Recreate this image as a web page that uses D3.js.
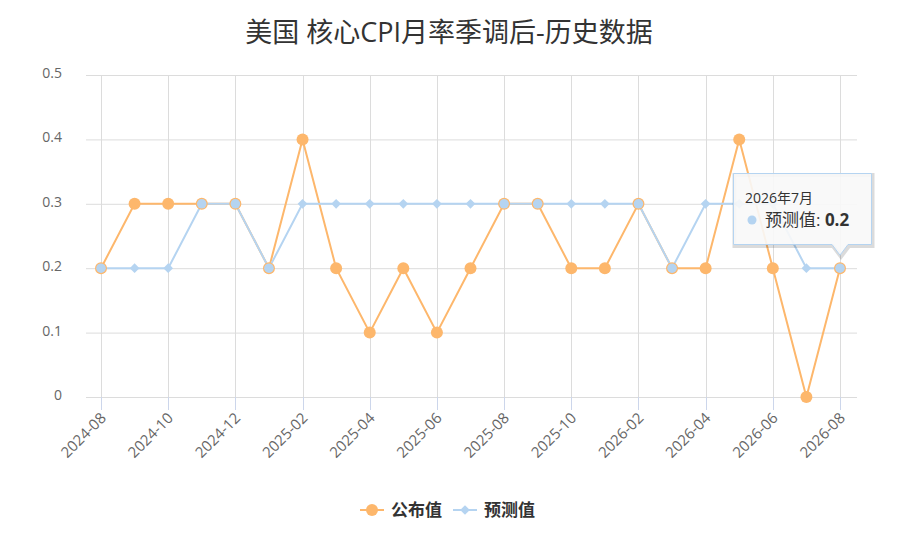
<!DOCTYPE html>
<html>
<head>
<meta charset="utf-8">
<script src="https://cdn.jsdelivr.net/npm/d3@7"></script>
<style>
	body { margin: 0; background: #fff; }
	svg { font-family: "Open Sans", "Noto Sans CJK SC", sans-serif; }
</style>
</head>
<body>
<script>
//data
var months = ["2024-08","2024-09","2024-10","2024-11","2024-12","2025-01","2025-02","2025-03",
	"2025-04","2025-05","2025-06","2025-07","2025-08","2025-09","2025-10","2025-12",
	"2026-02","2026-03","2026-04","2026-05","2026-06","2026-07","2026-08"];
var actual = [0.2,0.3,0.3,0.3,0.3,0.2,0.4,0.2,0.1,0.2,0.1,0.2,0.3,0.3,0.2,0.2,0.3,0.2,0.2,0.4,0.2,0,0.2];
var forecast = [0.2,0.2,0.2,0.3,0.3,0.2,0.3,0.3,0.3,0.3,0.3,0.3,0.3,0.3,0.3,0.3,0.3,0.2,0.3,0.3,0.3,0.2,0.2];
var yTicks = [0, 0.1, 0.2, 0.3, 0.4, 0.5];
var seriesNames = ["公布值", "预测值"];
var tooltipIndex = 22,
	tooltipLabel = "2026年7月";

window.onload = drawChart();

function drawChart(){
	var width = 899,
		height = 557;
	var orange = "#fdb76c",
		blue = "#b5d4f1";

	var svg = d3.select("body")
		.append("svg")
		.attr("width", width)
		.attr("height", height);

	//scales
	var x = d3.scalePoint()
		.domain(months)
		.range([101, 840]);
	var y = d3.scaleLinear()
		.domain([0, 0.5])
		.range([397, 75]);
	var left = 86, right = 857;

	//title
	svg.append("text")
		.attr("x", 449)
		.attr("y", 42)
		.attr("text-anchor", "middle")
		.attr("font-size", 27)
		.attr("fill", "#333")
		.text("美国 核心CPI月率季调后-历史数据");

	//horizontal grid + y labels
	svg.selectAll(".hgrid")
		.data(yTicks)
		.enter()
		.append("line")
		.attr("x1", left).attr("x2", right)
		.attr("y1", function(d){ return y(d) + 0.5; })
		.attr("y2", function(d){ return y(d) + 0.5; })
		.attr("stroke", "#dcdcdc");
	svg.selectAll(".ylab")
		.data(yTicks)
		.enter()
		.append("text")
		.attr("x", 62)
		.attr("y", function(d){ return y(d) + 3; })
		.attr("text-anchor", "end")
		.attr("font-size", 14)
		.attr("fill", "#666")
		.text(function(d){ return d3.format("")(d); });

	//vertical grid on every other month, with tick stubs below the axis
	var shown = months.filter(function(d, i){ return i % 2 === 0; });
	svg.selectAll(".vgrid")
		.data(shown)
		.enter()
		.append("line")
		.attr("x1", function(d){ return Math.round(x(d)) + 0.5; })
		.attr("x2", function(d){ return Math.round(x(d)) + 0.5; })
		.attr("y1", 75).attr("y2", 397)
		.attr("stroke", "#dcdcdc");
	svg.selectAll(".tick")
		.data(shown)
		.enter()
		.append("line")
		.attr("x1", function(d){ return Math.round(x(d)) + 0.5; })
		.attr("x2", function(d){ return Math.round(x(d)) + 0.5; })
		.attr("y1", 397).attr("y2", 410)
		.attr("stroke", "#ccd6eb");
	svg.selectAll(".xlab")
		.data(shown)
		.enter()
		.append("text")
		.attr("transform", function(d){ return "translate(" + (x(d) + 6) + ",419) rotate(-45)"; })
		.attr("text-anchor", "end")
		.attr("font-size", 15)
		.attr("fill", "#666")
		.text(function(d){ return d; });

	//lines
	var line = d3.line()
		.x(function(d, i){ return x(months[i]); })
		.y(function(d){ return y(d); });
	svg.append("path")
		.datum(actual)
		.attr("d", line)
		.attr("fill", "none")
		.attr("stroke", orange)
		.attr("stroke-width", 2);
	svg.append("path")
		.datum(forecast)
		.attr("d", line)
		.attr("fill", "none")
		.attr("stroke", blue)
		.attr("stroke-width", 2);

	//markers: orange circles, blue diamonds (blue circle with orange ring where both match)
	svg.selectAll(".dotA")
		.data(actual)
		.enter()
		.append("circle")
		.attr("cx", function(d, i){ return x(months[i]); })
		.attr("cy", function(d){ return y(d); })
		.attr("r", 6)
		.attr("fill", orange);
	var diamond = d3.symbol().type(d3.symbolDiamond2).size(60);
	svg.selectAll(".dotF")
		.data(forecast)
		.enter()
		.append("path")
		.attr("transform", function(d, i){ return "translate(" + x(months[i]) + "," + y(d) + ")"; })
		.attr("d", function(d, i){
			if (d === actual[i]) return d3.symbol().type(d3.symbolCircle).size(72)();
			return diamond();
		})
		.attr("fill", blue);

	//legend
	var legend = svg.append("g").attr("font-size", 17).attr("font-weight", "bold").attr("fill", "#333");
	legend.append("line").attr("x1", 360).attr("x2", 384).attr("y1", 510).attr("y2", 510)
		.attr("stroke", orange).attr("stroke-width", 2);
	legend.append("circle").attr("cx", 372).attr("cy", 510).attr("r", 6).attr("fill", orange);
	legend.append("text").attr("x", 391).attr("y", 516).text(seriesNames[0]);
	legend.append("line").attr("x1", 453).attr("x2", 477).attr("y1", 510).attr("y2", 510)
		.attr("stroke", blue).attr("stroke-width", 2);
	legend.append("path").attr("transform", "translate(465,510)").attr("d", diamond()).attr("fill", blue);
	legend.append("text").attr("x", 484).attr("y", 516).text(seriesNames[1]);

	//tooltip on the last forecast point
	var px = x(months[tooltipIndex]),
		py = y(forecast[tooltipIndex]);
	var bx = 733.5, by = 173.5, bw = 138, bh = 71;
	var tipPath = "M" + bx + "," + by + "h" + bw + "v" + bh + "H" + (px + 8) + "L" + px + "," + (py - 13) +
		"L" + (px - 8) + "," + (by + bh) + "H" + bx + "Z";
	svg.append("path")
		.attr("d", tipPath)
		.attr("transform", "translate(1,1.5)")
		.attr("fill", "none")
		.attr("stroke", "rgba(0,0,0,0.14)")
		.attr("stroke-width", 4);
	svg.append("path")
		.attr("d", tipPath)
		.attr("fill", "rgba(248,248,248,0.9)")
		.attr("stroke", blue)
		.attr("stroke-width", 1);
	svg.append("text")
		.attr("x", 745).attr("y", 203)
		.attr("font-size", 14)
		.attr("fill", "#333")
		.text(tooltipLabel);
	svg.append("circle")
		.attr("cx", 752).attr("cy", 220).attr("r", 4.5)
		.attr("fill", blue);
	var tt = svg.append("text")
		.attr("x", 765).attr("y", 226)
		.attr("font-size", 17)
		.attr("fill", "#333");
	tt.append("tspan").text(seriesNames[1] + ": ");
	tt.append("tspan").attr("font-weight", "bold").text(forecast[tooltipIndex]);
}
</script>
</body>
</html>
